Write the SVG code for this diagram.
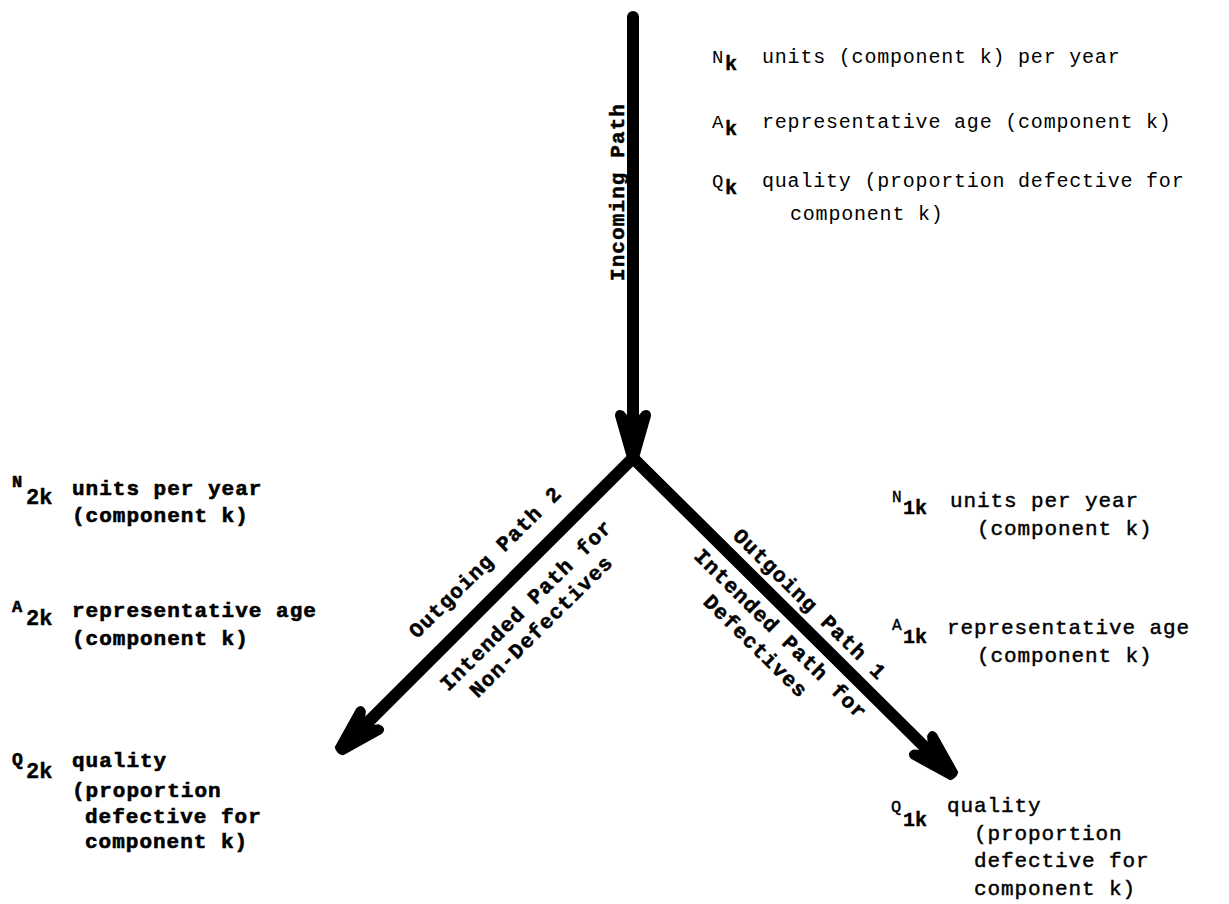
<svg xmlns="http://www.w3.org/2000/svg" width="1229" height="904" viewBox="0 0 1229 904">
<style>
  text { font-family: "Liberation Mono", "DejaVu Sans Mono", monospace; fill: #000; }
  .top { font-size: 20px; letter-spacing: 0.8px; }
  .rt { font-size: 21px; letter-spacing: 0.9px; stroke: #000; stroke-width: 0.45px; }
  .lt { font-size: 21px; font-weight: bold; letter-spacing: 1.0px; stroke: #000; stroke-width: 0.6px; }
  .lbl { font-size: 21px; font-weight: bold; letter-spacing: 1.1px; text-anchor: middle; stroke: #000; stroke-width: 0.5px; }
  .sym { font-size: 16px; }
  .symt { font-size: 19px; }
  .sub { font-size: 20px; font-weight: bold; stroke: #000; stroke-width: 0.4px; }
  .shaft { stroke: #000; stroke-width: 12; fill: none; stroke-linecap: round; }
</style>
<defs>
  <marker id="head" markerUnits="userSpaceOnUse" markerWidth="80" markerHeight="80" refX="0" refY="0" orient="auto" overflow="visible">
    <path d="M 21 -5 Q 24 0 21 5 L -21 17 Q -28 17 -25 10 L -19 5 L -19 -5 L -25 -10 Q -28 -17 -21 -17 Z" fill="#000" stroke="#000" stroke-width="2" stroke-linejoin="round"/>
  </marker>
</defs>
<rect width="1229" height="904" fill="#fff"/>

<g id="connectors">
  <line class="shaft" x1="633" y1="17" x2="633" y2="437" marker-end="url(#head)"/>
  <line class="shaft" x1="633" y1="458" x2="354.2" y2="735.9" marker-end="url(#head)"/>
  <line class="shaft" x1="633" y1="458" x2="938.8" y2="760.9" marker-end="url(#head)"/>
</g>

<g id="connector-labels">
  <text class="lbl" transform="translate(624,192) rotate(-90)">Incoming Path</text>
  <text class="lbl" transform="translate(490,567) rotate(-44.7)">Outgoing Path 2</text>
  <text class="lbl" transform="translate(531,610) rotate(-44.7)">Intended Path for</text>
  <text class="lbl" transform="translate(546,631) rotate(-44.7)">Non-Defectives</text>
  <text class="lbl" transform="translate(805,609) rotate(44.5)">Outgoing Path 1</text>
  <text class="lbl" transform="translate(776,639) rotate(44.5)">Intended Path for</text>
  <text class="lbl" transform="translate(751,651) rotate(44.5)">Defectives</text>
</g>

<g id="incoming-info">
  <text class="top symt" x="712" y="63">N</text>
  <text class="sub" x="725" y="70">k</text>
  <text class="top" x="762" y="63">units (component k) per year</text>
  <text class="top symt" x="712" y="128">A</text>
  <text class="sub" x="725" y="135">k</text>
  <text class="top" x="762" y="128">representative age (component k)</text>
  <text class="top symt" x="712" y="187">Q</text>
  <text class="sub" x="725" y="194">k</text>
  <text class="top" x="762" y="187">quality (proportion defective for</text>
  <text class="top" x="790" y="220">component k)</text>
</g>

<g id="path2-info">
  <text class="lt sym" x="12" y="487" style="font-size:17px">N</text>
  <text class="sub" x="26" y="504" style="font-size:22px">2k</text>
  <text class="lt" x="72" y="495">units per year</text>
  <text class="lt" x="72" y="522">(component k)</text>
  <text class="lt sym" x="12" y="612" style="font-size:17px">A</text>
  <text class="sub" x="26" y="625" style="font-size:22px">2k</text>
  <text class="lt" x="72" y="617">representative age</text>
  <text class="lt" x="72" y="645">(component k)</text>
  <text class="lt" x="12" y="765" style="font-size:18px">Q</text>
  <text class="sub" x="26" y="778" style="font-size:22px">2k</text>
  <text class="lt" x="72" y="767">quality</text>
  <text class="lt" x="72" y="797">(proportion</text>
  <text class="lt" x="85" y="823">defective for</text>
  <text class="lt" x="85" y="848">component k)</text>
</g>

<g id="path1-info">
  <text class="rt sym" x="892" y="502">N</text>
  <text class="sub" x="903" y="514">1k</text>
  <text class="rt" x="950" y="507">units per year</text>
  <text class="rt" x="977" y="535">(component k)</text>
  <text class="rt sym" x="892" y="630">A</text>
  <text class="sub" x="903" y="643">1k</text>
  <text class="rt" x="947" y="634">representative age</text>
  <text class="rt" x="977" y="662">(component k)</text>
  <text class="rt" x="891" y="812" style="font-size:17px">Q</text>
  <text class="sub" x="903" y="826">1k</text>
  <text class="rt" x="947" y="812">quality</text>
  <text class="rt" x="974" y="840">(proportion</text>
  <text class="rt" x="974" y="867">defective for</text>
  <text class="rt" x="974" y="895">component k)</text>
</g>
</svg>
